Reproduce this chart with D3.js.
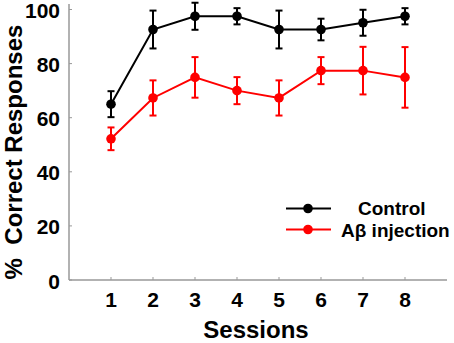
<!DOCTYPE html>
<html>
<head>
<meta charset="utf-8">
<script src="https://cdnjs.cloudflare.com/ajax/libs/d3/7.8.5/d3.min.js"></script>
<style>
    body { margin: 0; background: #fff; }
    text { font-family: "Liberation Sans", Arial, sans-serif; font-weight: bold; fill: #000; }
</style>
</head>
<body>
<div id="chart"></div>
<script>
// data
let sessions = [1, 2, 3, 4, 5, 6, 7, 8];
let controlMean = [65, 92.6, 97.5, 97.5, 92.6, 92.6, 95.1, 97.5];
let controlErr  = [4.8, 7, 5, 3, 7, 4, 4.8, 3];
let abetaMean   = [52.2, 67.3, 74.9, 70, 67.3, 77.4, 77.4, 74.9];
let abetaErr    = [4.2, 6.5, 7.5, 5, 6.5, 5, 8.8, 11.2];
let yTicks = [0, 20, 40, 60, 80, 100];
let seriesNames = ["Control", "A\u03b2 injection"];
let seriesColors = ["#000000", "#ff0000"];

let width = 454, height = 343;

let svg = d3.select("#chart").append("svg")
    .attr("width", width)
    .attr("height", height);

// scales
let x = d3.scaleLinear().domain([0, 9]).range([69, 447]);
let y = d3.scaleLinear().domain([0, 100]).range([280, 9.5]);

// axes (gray, ticks pointing inward)
let axisColor = "#999";
svg.append("line")
    .attr("x1", x(0)).attr("x2", x(0))
    .attr("y1", y(0)).attr("y2", y(102))
    .attr("stroke", axisColor).attr("stroke-width", 1.5);
svg.append("line")
    .attr("x1", x(0)).attr("x2", x(9))
    .attr("y1", y(0)).attr("y2", y(0))
    .attr("stroke", axisColor).attr("stroke-width", 1.5);

svg.selectAll(".ytick").data(yTicks).enter().append("line")
    .attr("x1", x(0)).attr("x2", x(0) + 3)
    .attr("y1", d => y(d)).attr("y2", d => y(d))
    .attr("stroke", axisColor).attr("stroke-width", 1);
svg.selectAll(".ylabel").data(yTicks).enter().append("text")
    .attr("x", 60)
    .attr("y", d => y(d) + 8.5)
    .attr("text-anchor", "end")
    .attr("font-size", 21)
    .text(d => d);

svg.selectAll(".xtick").data(sessions).enter().append("line")
    .attr("x1", d => x(d)).attr("x2", d => x(d))
    .attr("y1", y(0)).attr("y2", y(0) - 3)
    .attr("stroke", axisColor).attr("stroke-width", 1);
svg.selectAll(".xlabel").data(sessions).enter().append("text")
    .attr("x", d => x(d))
    .attr("y", 306.5)
    .attr("text-anchor", "middle")
    .attr("font-size", 21)
    .text(d => d);

// axis titles
svg.append("text")
    .attr("x", 256).attr("y", 338)
    .attr("text-anchor", "middle")
    .attr("font-size", 24)
    .text("Sessions");
svg.append("text")
    .attr("transform", "translate(22,152) rotate(-90)")
    .attr("text-anchor", "middle")
    .attr("font-size", 24)
    .attr("xml:space", "preserve")
    .text("%  Correct Responses");

// series
let series = [
    {name: seriesNames[0], color: seriesColors[0], mean: controlMean, err: controlErr},
    {name: seriesNames[1], color: seriesColors[1], mean: abetaMean, err: abetaErr}
];

let line = d3.line()
    .x(d => x(d.s))
    .y(d => y(d.m));

series.forEach(function (ser) {
    let pts = sessions.map((s, i) => ({s: s, m: ser.mean[i], e: ser.err[i]}));
    let g = svg.append("g");

    g.append("path")
        .datum(pts)
        .attr("d", line)
        .attr("fill", "none")
        .attr("stroke", ser.color)
        .attr("stroke-width", 2);

    // error bars
    g.selectAll(".err").data(pts).enter().append("line")
        .attr("x1", d => x(d.s)).attr("x2", d => x(d.s))
        .attr("y1", d => y(d.m - d.e)).attr("y2", d => y(d.m + d.e))
        .attr("stroke", ser.color).attr("stroke-width", 2);
    g.selectAll(".capTop").data(pts).enter().append("line")
        .attr("x1", d => x(d.s) - 3.5).attr("x2", d => x(d.s) + 3.5)
        .attr("y1", d => y(d.m + d.e)).attr("y2", d => y(d.m + d.e))
        .attr("stroke", ser.color).attr("stroke-width", 2);
    g.selectAll(".capBot").data(pts).enter().append("line")
        .attr("x1", d => x(d.s) - 3.5).attr("x2", d => x(d.s) + 3.5)
        .attr("y1", d => y(d.m - d.e)).attr("y2", d => y(d.m - d.e))
        .attr("stroke", ser.color).attr("stroke-width", 2);

    g.selectAll("circle").data(pts).enter().append("circle")
        .attr("cx", d => x(d.s))
        .attr("cy", d => y(d.m))
        .attr("r", 4.8)
        .attr("fill", ser.color);
});

// legend
let legendRows = [
    {ly: 208.5, tx: 358, ty: 215},
    {ly: 229.5, tx: 341, ty: 236.5}
];
series.forEach(function (ser, i) {
    let r = legendRows[i];
    svg.append("line")
        .attr("x1", 286).attr("x2", 331)
        .attr("y1", r.ly).attr("y2", r.ly)
        .attr("stroke", ser.color).attr("stroke-width", 2);
    svg.append("circle")
        .attr("cx", 308).attr("cy", r.ly)
        .attr("r", 4.8)
        .attr("fill", ser.color);
    svg.append("text")
        .attr("x", r.tx).attr("y", r.ty)
        .attr("font-size", 19)
        .text(ser.name);
});
</script>
</body>
</html>
